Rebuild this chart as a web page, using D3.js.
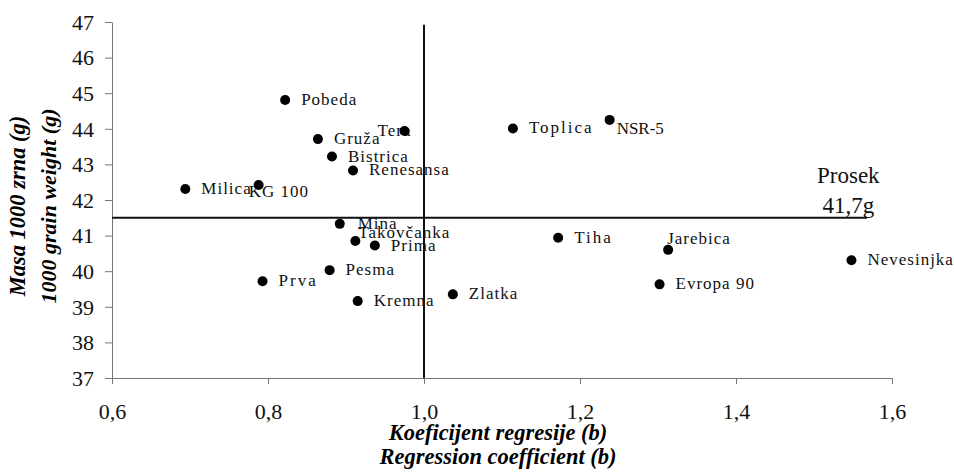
<!DOCTYPE html>
<html>
<head>
<meta charset="utf-8">
<script src="https://cdn.jsdelivr.net/npm/d3@7"></script>
<style>
    body { margin: 0; background: #fff; }
    svg { display: block; }
</style>
</head>
<body>
<script>
// data
const varieties = ["Pobeda", "Gruža", "Tera", "Bistrica", "Renesansa", "Milica", "KG 100", "Mina", "Takovčanka", "Prima",
    "Pesma", "Prva", "Kremna", "Zlatka", "Toplica", "NSR-5", "Tiha", "Jarebica", "Nevesinjka", "Evropa 90"];
const regressionCoef = [0.822, 0.864, 0.975, 0.882, 0.909, 0.694, 0.788, 0.892, 0.912, 0.937,
    0.879, 0.793, 0.915, 1.037, 1.114, 1.238, 1.172, 1.313, 1.548, 1.302];
const grainWeight = [44.81, 43.71, 43.94, 43.22, 42.83, 42.31, 42.42, 41.33, 40.85, 40.72,
    40.03, 39.72, 39.16, 39.35, 44.01, 44.25, 40.94, 40.60, 40.31, 39.63];
const xTicks = [0.6, 0.8, 1.0, 1.2, 1.4, 1.6];
const yTicks = [37, 38, 39, 40, 41, 42, 43, 44, 45, 46, 47];
// reference lines: b = 1.0 and the average weight line as drawn
const meanCoef = 1.0;
const meanWeightLine = 41.5;
const meanLabel = ["Prosek", "41,7g"];

let width = 954;
let height = 476;
let marginTop = 22;
let marginRight = 62;
let marginBottom = 98;
let marginLeft = 112;

// label placement (dx, dy from the point)
const labelNudge = {
    "Tera": [-27, 5],
    "KG 100": [-10, 12],
    "Takovčanka": [3, -3],
    "NSR-5": [7, 14],
    "Jarebica": [-1, -6],
    "Mina": [18, 5]
};
const wideLabels = ["Toplica", "Tiha", "Prva"];

const FONT = "Liberation Serif";

function draw() {
    let chartWidth = width - marginLeft - marginRight;
    let chartHeight = height - marginTop - marginBottom;

    const svg = d3.select("body").append("svg")
        .attr("width", width)
        .attr("height", height)
        .attr("font-family", FONT);

    const g = svg.append("g")
        .attr("transform", "translate(" + marginLeft + "," + marginTop + ")");

    let xScale = d3.scaleLinear().domain([0.6, 1.6]).range([0, chartWidth]);
    let yScale = d3.scaleLinear().domain([37, 47]).range([chartHeight, 0]);
    const fmt = (d) => d3.format(".1f")(d).replace(".", ",");

    // x axis
    const xAxis = g.append("g")
        .attr("transform", "translate(0," + chartHeight + ")")
        .call(d3.axisBottom(xScale).tickValues(xTicks).tickFormat(fmt).tickSize(6).tickSizeOuter(0));
    xAxis.attr("font-family", FONT).attr("font-size", 22);
    xAxis.selectAll("text")
        .attr("dy", null)
        .attr("y", 41)
        .attr("fill", "#111");

    // y axis
    const yAxis = g.append("g")
        .call(d3.axisLeft(yScale).tickValues(yTicks).tickSize(7).tickPadding(11).tickSizeOuter(0));
    yAxis.attr("font-family", FONT).attr("font-size", 22);
    yAxis.selectAll("text")
        .attr("dy", "0.33em")
        .attr("fill", "#111");
    svg.selectAll(".domain, .tick line").attr("stroke", "#777");

    // labels
    const pts = varieties.map((v, i) => ({ name: v, x: regressionCoef[i], y: grainWeight[i] }));
    g.selectAll(".lbl")
        .data(pts)
        .enter()
        .append("text")
        .attr("class", "lbl")
        .attr("x", (d) => xScale(d.x) + (labelNudge[d.name] ? labelNudge[d.name][0] : 16))
        .attr("y", (d) => yScale(d.y) + (labelNudge[d.name] ? labelNudge[d.name][1] : 5))
        .attr("font-family", FONT)
        .attr("font-size", 17)
        .attr("letter-spacing", (d) => wideLabels.includes(d.name) ? 2 : (d.name == "NSR-5" ? 0 : 1))
        .attr("fill", "#111")
        .text((d) => d.name);

    // reference lines
    g.append("line")
        .attr("x1", xScale(meanCoef)).attr("x2", xScale(meanCoef))
        .attr("y1", yScale(46.92)).attr("y2", yScale(37))
        .attr("stroke", "#111").attr("stroke-width", 2);
    g.append("line")
        .attr("x1", xScale(0.6)).attr("x2", xScale(1.568))
        .attr("y1", yScale(meanWeightLine)).attr("y2", yScale(meanWeightLine))
        .attr("stroke", "#111").attr("stroke-width", 2);

    g.selectAll(".mean")
        .data(meanLabel)
        .enter()
        .append("text")
        .attr("x", xScale(1.544))
        .attr("y", (d, i) => yScale(meanWeightLine) - 35 + i * 30)
        .attr("text-anchor", "middle")
        .attr("font-family", FONT)
        .attr("font-size", 23)
        .attr("fill", "#111")
        .text((d) => d);

    // points
    g.selectAll(".dot")
        .data(pts)
        .enter()
        .append("circle")
        .attr("cx", (d) => xScale(d.x))
        .attr("cy", (d) => yScale(d.y))
        .attr("r", 5)
        .attr("fill", "#000");

    // axis titles
    svg.selectAll(".xt")
        .data(["Koeficijent regresije (b)", "Regression coefficient (b)"])
        .enter()
        .append("text")
        .attr("x", marginLeft + chartWidth / 2 - 4)
        .attr("y", (d, i) => 440 + i * 24)
        .attr("text-anchor", "middle")
        .attr("font-family", FONT)
        .attr("font-size", 22.5)
        .attr("font-weight", "bold")
        .attr("font-style", "italic")
        .text((d) => d);

    svg.selectAll(".yt")
        .data(["Masa 1000 zrna (g)", "1000 grain weight (g)"])
        .enter()
        .append("text")
        .attr("transform", (d, i) => "translate(" + (25 + i * 31) + ",206) rotate(-90)")
        .attr("text-anchor", "middle")
        .attr("font-family", FONT)
        .attr("font-size", (d, i) => i == 0 ? 22.5 : 22)
        .attr("font-weight", "bold")
        .attr("font-style", "italic")
        .text((d) => d);
}

draw();
</script>
</body>
</html>
